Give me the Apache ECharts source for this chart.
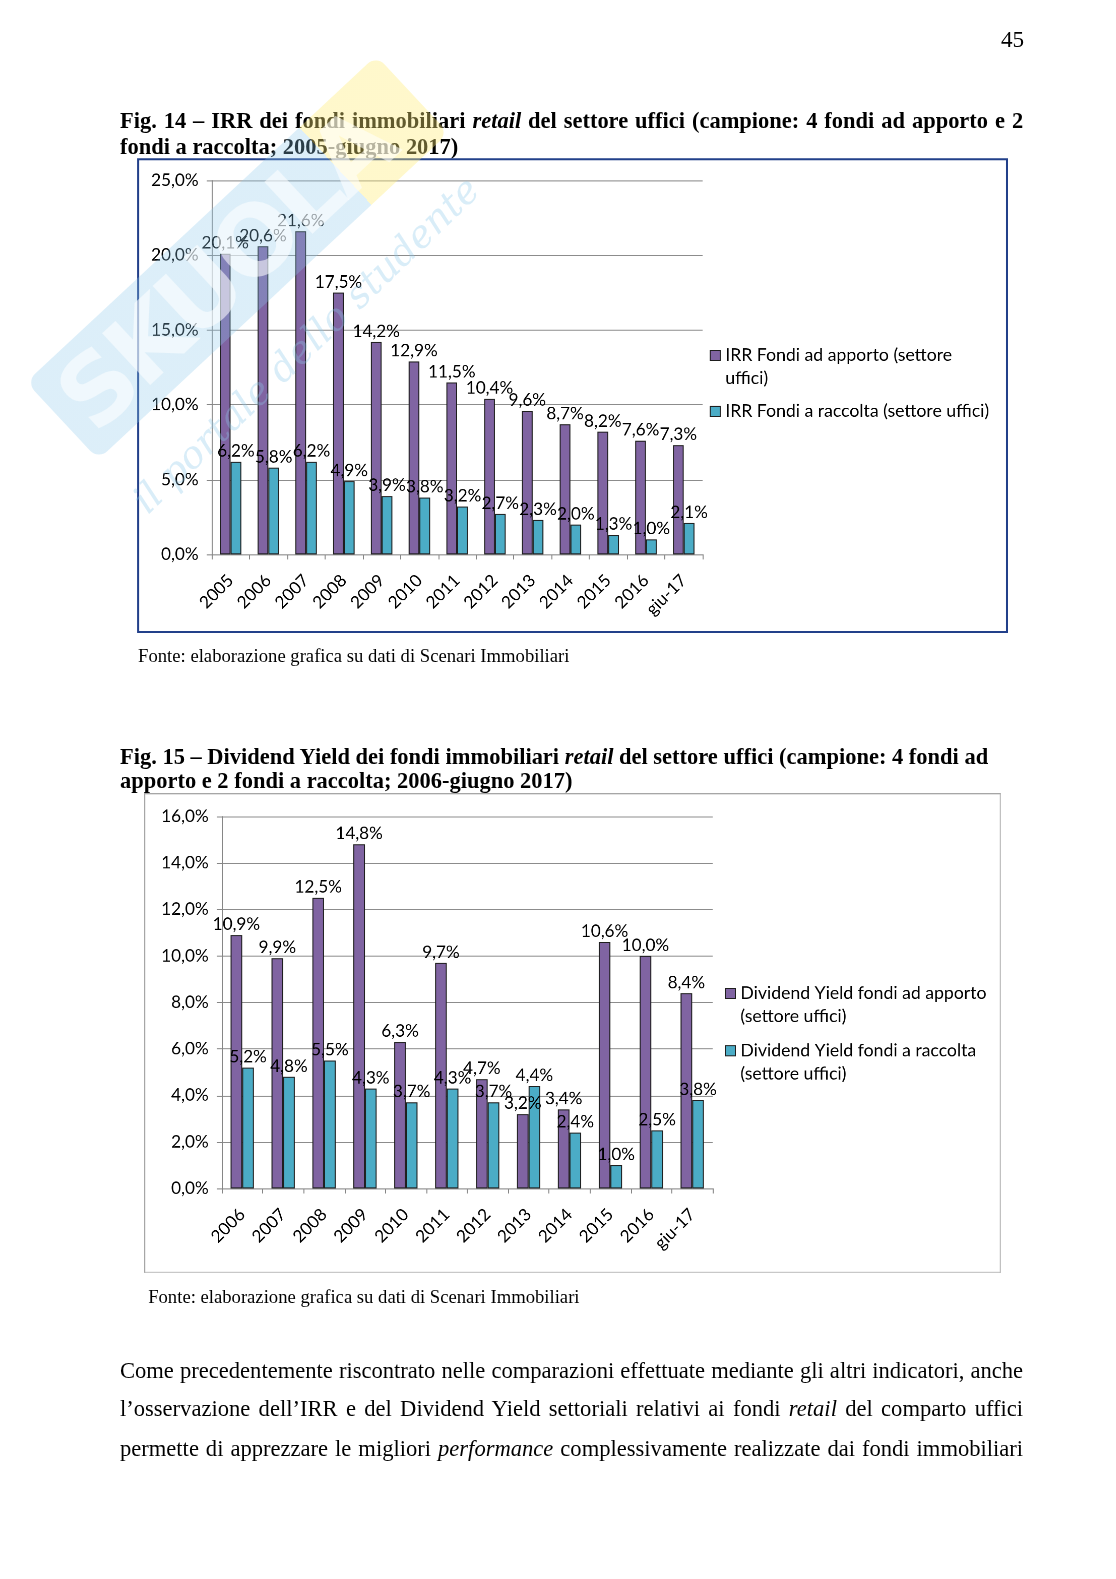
<!DOCTYPE html>
<html><head><meta charset="utf-8">
<script src="https://cdn.jsdelivr.net/npm/echarts@6/dist/echarts.min.js"></script>
<style>
html{margin:0;padding:0;width:1116px;height:1579px;overflow:hidden;background:#fff;}
body{margin:0;padding:0;width:1116px;height:1579px;position:relative;overflow:hidden;font-family:"Liberation Serif","Times New Roman",serif;color:#000;background:#fff;}
#page{position:absolute;left:0;top:0;width:1116px;height:1579px;transform:scale(1.008);transform-origin:0 0;}
.t{position:absolute;white-space:nowrap;}
.ttl{font-weight:bold;font-size:22.3px;left:119px;}
.jl{width:896px;text-align:justify;text-align-last:justify;}
.par{position:absolute;left:119px;width:896px;font-size:22.4px;line-height:26px;text-align:justify;text-align-last:justify;}
.src{font-size:18.5px;line-height:22px;}
.box{position:absolute;box-sizing:border-box;pointer-events:none;}
.chart{position:absolute;}
.wm{position:absolute;pointer-events:none;transform-origin:center center;}
</style></head>
<body>
<div id="page">
<div class="t" style="left:993px;top:27px;font-size:23px;line-height:26px;">45</div>

<div class="t ttl jl" style="top:107px;line-height:26px;">Fig. 14 – IRR dei fondi immobiliari <i>retail</i> del settore uffici (campione: 4 fondi ad apporto e 2</div>
<div class="t ttl" style="top:133px;line-height:26px;">fondi a raccolta; 2005-giugno 2017)</div>

<div id="c1" class="chart" style="left:136px;top:157px;width:863px;height:470px;"></div>
<div class="box" style="left:136px;top:157px;width:864px;height:471px;border:2px solid #22408a;"></div>

<div class="t src" style="left:137px;top:640px;">Fonte: elaborazione grafica su dati di Scenari Immobiliari</div>

<div class="t ttl" style="top:739px;line-height:24px;">Fig. 15 – Dividend Yield dei fondi immobiliari <i>retail</i> del settore uffici (campione: 4 fondi ad</div>
<div class="t ttl" style="top:763px;line-height:24px;">apporto e 2 fondi a raccolta; 2006-giugno 2017)</div>

<div id="c2" class="chart" style="left:143px;top:787px;width:849px;height:475px;"></div>
<div class="box" style="left:143px;top:787px;width:850px;height:476px;border:1px solid #a6a6a6;"></div>

<div class="t src" style="left:147px;top:1276px;">Fonte: elaborazione grafica su dati di Scenari Immobiliari</div>

<div class="par" style="top:1347px;">Come precedentemente riscontrato nelle comparazioni effettuate mediante gli altri indicatori, anche</div>
<div class="par" style="top:1385px;">l’osservazione dell’IRR e del Dividend Yield settoriali relativi ai fondi <i>retail</i> del comparto uffici</div>
<div class="par" style="top:1424px;">permette di apprezzare le migliori <i>performance</i> complessivamente realizzate dai fondi immobiliari</div>

<!-- watermark (approximation) -->
<div class="wm" style="left:-2px;top:203px;width:475px;height:105px;transform:rotate(-43deg);border-radius:12px;overflow:hidden;
  background:linear-gradient(90deg, rgba(140,200,235,0.30) 0%, rgba(140,200,235,0.30) 78%, rgba(255,236,120,0.38) 78%, rgba(255,236,120,0.38) 100%);">
  <div style="position:absolute;left:14px;top:2px;font-family:'DejaVu Sans',sans-serif;font-weight:bold;font-size:96px;line-height:102px;color:rgba(255,255,255,0.55);letter-spacing:-4px;">SKUOLA</div>
</div>
<div class="wm" style="left:73px;top:320px;width:460px;height:44px;transform:rotate(-44deg);font-family:'DejaVu Serif',serif;font-style:italic;font-size:38px;line-height:44px;color:rgba(140,200,235,0.33);white-space:nowrap;">il portale dello studente</div>
</div>

<script>
// ---- Data ----
const categories1 = ['2005','2006','2007','2008','2009','2010','2011','2012','2013','2014','2015','2016','giu-17'];
const irrApporto  = [20.1, 20.6, 21.6, 17.5, 14.2, 12.9, 11.5, 10.4, 9.6, 8.7, 8.2, 7.6, 7.3];
const irrRaccolta = [6.2, 5.8, 6.2, 4.9, 3.9, 3.8, 3.2, 2.7, 2.3, 2.0, 1.3, 1.0, 2.1];
const seriesNames1 = ['IRR Fondi ad apporto (settore uffici)', 'IRR Fondi a raccolta (settore uffici)'];

const categories2 = ['2006','2007','2008','2009','2010','2011','2012','2013','2014','2015','2016','giu-17'];
const dyApporto  = [10.9, 9.9, 12.5, 14.8, 6.3, 9.7, 4.7, 3.2, 3.4, 10.6, 10.0, 8.4];
const dyRaccolta = [5.2, 4.8, 5.5, 4.3, 3.7, 4.3, 3.7, 4.4, 2.4, 1.0, 2.5, 3.8];
const seriesNames2 = ['Dividend Yield fondi ad apporto (settore uffici)', 'Dividend Yield fondi a raccolta (settore uffici)'];

const axisMax1 = 25, axisStep1 = 5;
const axisMax2 = 16, axisStep2 = 2;

// ---- Styling helpers ----
const FONT = 'Lato';
const FS = 17;
const PURPLE = '#8064A2';
const CYAN = '#4BACC6';
const LH = 23;
const pct = v => Number(v).toFixed(1).replace('.', ',') + '%';
// square icon aligned with the first line of a two-line legend label (box 10 x 46)
const ICON_TOP = 'path://M0,0 M0,6.5 L10,6.5 L10,16.5 L0,16.5 Z M0,46';

function barSeries(name, data, color) {
  return {
    name, type: 'bar', data,
    barGap: '0%', barCategoryGap: '43%',
    itemStyle: { color, borderColor: '#1e1e1e', borderWidth: 1 },
    label: { show: true, position: 'top', distance: 2, formatter: p => pct(p.value),
             fontFamily: FONT, fontSize: FS, color: '#000' },
    emphasis: { disabled: true }
  };
}

function legendBase(extra) {
  return Object.assign({
    orient: 'vertical', itemWidth: 10, itemHeight: 10, itemGap: 10, padding: 0,
    icon: 'rect', selectedMode: false,
    itemStyle: { borderColor: '#1e1e1e', borderWidth: 1 },
    textStyle: { fontFamily: FONT, fontSize: 17.5, color: '#000', lineHeight: LH }
  }, extra);
}

function buildOption(cats, a, b, names, max, step, grid, legends) {
  return {
    animation: false,
    textStyle: { fontFamily: FONT },
    grid: Object.assign({ containLabel: false }, grid),
    legend: legends,
    xAxis: {
      type: 'category', data: cats,
      axisLine: { lineStyle: { color: '#868686', width: 1 } },
      axisTick: { show: true, length: 5, lineStyle: { color: '#868686' } },
      axisLabel: { rotate: 45, fontFamily: FONT, fontSize: FS, color: '#000', margin: 23, interval: 0 }
    },
    yAxis: {
      type: 'value', min: 0, max, interval: step,
      axisLine: { show: true, lineStyle: { color: '#868686', width: 1 } },
      axisTick: { show: true, length: 5, inside: false, lineStyle: { color: '#868686' } },
      axisLabel: { formatter: v => pct(v), fontFamily: FONT, fontSize: FS, color: '#000', margin: 13 },
      splitLine: { lineStyle: { color: '#8c8c8c', width: 1 } }
    },
    series: [barSeries(names[0], a, PURPLE), barSeries(names[1], b, CYAN)]
  };
}

const legends1 = [
  legendBase({ left: 568, top: 183.5, itemHeight: 46, icon: ICON_TOP, data: [seriesNames1[0]],
               formatter: () => 'IRR Fondi ad apporto (settore\nuffici)' }),
  legendBase({ left: 568, top: 239.5, data: [seriesNames1[1]],
               formatter: () => 'IRR Fondi a raccolta (settore uffici)' })
];
const legends2 = [
  legendBase({ left: 576, top: 186.5, itemHeight: 46, icon: ICON_TOP, data: seriesNames2,
               formatter: n => n.replace(' (settore', '\n(settore') })
];

const c1 = echarts.init(document.getElementById('c1'), null, { renderer: 'canvas', devicePixelRatio: 2 });
c1.setOption(buildOption(categories1, irrApporto, irrRaccolta, seriesNames1, axisMax1, axisStep1,
  { left: 74, right: 302, top: 22, bottom: 77 }, legends1));

const c2 = echarts.init(document.getElementById('c2'), null, { renderer: 'canvas', devicePixelRatio: 2 });
c2.setOption(buildOption(categories2, dyApporto, dyRaccolta, seriesNames2, axisMax2, axisStep2,
  { left: 77, right: 285, top: 23, bottom: 83 }, legends2));
</script>
</body></html>
